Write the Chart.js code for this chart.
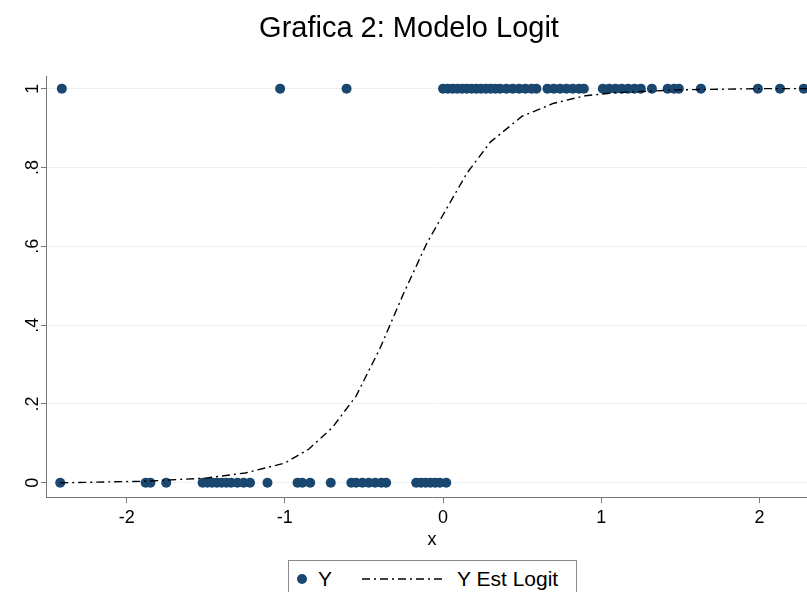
<!DOCTYPE html>
<html>
<head>
<meta charset="utf-8">
<script src="https://cdn.jsdelivr.net/npm/chart.js@4"></script>
<style>
    html, body { margin: 0; padding: 0; background: #fff; overflow: hidden; }
    #wrap { position: relative; width: 834px; height: 592px; overflow: hidden; }
    #legend {
        position: absolute; left: 288px; top: 560px; width: 289px; height: 44px;
        box-sizing: border-box; border: 1px solid #8a8a8a; background: #fff;
        font-family: "Liberation Sans", Arial, sans-serif; font-size: 21px; color: #000;
        display: flex; align-items: center; padding: 0 0 6px 8px; line-height: 36px;
    }
    #legend .dot { width: 10px; height: 10px; border-radius: 50%; display: inline-block; }
    #legend svg { display: inline-block; }
</style>
</head>
<body>
<div id="wrap">
    <canvas id="logitChart" width="834" height="592"></canvas>
    <div id="legend"></div>
</div>
<script>
/* datos */
var onesX = [-2.41, -1.03, -0.61,
    0.0, 0.03, 0.06, 0.09, 0.12, 0.15, 0.18, 0.21, 0.24, 0.27, 0.30, 0.33, 0.36, 0.40, 0.44, 0.48, 0.52, 0.56, 0.59,
    0.66, 0.70, 0.74, 0.78, 0.82, 0.86, 0.89,
    1.01, 1.05, 1.09, 1.13, 1.17, 1.21, 1.25, 1.32, 1.42, 1.46, 1.49, 1.63, 1.99, 2.13, 2.28];
var zerosX = [-2.42, -1.88, -1.85, -1.75,
    -1.52, -1.49, -1.46, -1.43, -1.40, -1.37, -1.34, -1.30, -1.26, -1.22, -1.11,
    -0.92, -0.89, -0.84, -0.71, -0.58, -0.55, -0.51, -0.47, -0.43, -0.39, -0.36,
    -0.17, -0.14, -0.11, -0.08, -0.05, -0.02, 0.02];
var curveX = [-2.42, -1.88, -1.5, -1.25, -1.0, -0.85, -0.7, -0.55, -0.4, -0.25, -0.1, 0.0, 0.15, 0.3, 0.5, 0.7, 0.9, 1.1, 1.5, 2.0, 2.37];
var curveY = [0.0, 0.004, 0.012, 0.025, 0.05, 0.085, 0.14, 0.22, 0.34, 0.48, 0.61, 0.68, 0.785, 0.865, 0.93, 0.963, 0.982, 0.99, 0.997, 1.0, 1.0];

var xTickValues = [-2, -1, 0, 1, 2];
var xTickLabels = ['-2', '-1', '0', '1', '2'];
var yTickValues = [0, 0.2, 0.4, 0.6, 0.8, 1];
var yTickLabels = ['0', '.2', '.4', '.6', '.8', '1'];

var navy = '#1a476f';
var lineDash = [8, 4, 2, 4];

Chart.defaults.font.family = '"Liberation Sans", Arial, sans-serif';
Chart.defaults.color = '#000';

var pointsY = onesX.map(function (x) { return { x: x, y: 1 }; })
    .concat(zerosX.map(function (x) { return { x: x, y: 0 }; }));
var curvePts = curveX.map(function (x, i) { return { x: x, y: curveY[i] }; });

var chart = new Chart(document.getElementById('logitChart').getContext('2d'), {
    type: 'scatter',
    data: {
        datasets: [{
            label: 'Y',
            data: pointsY,
            pointRadius: 5,
            pointBorderWidth: 0,
            pointBackgroundColor: navy,
            backgroundColor: navy,
            order: 1
        }, {
            label: 'Y Est Logit',
            data: curvePts,
            showLine: true,
            pointRadius: 0,
            borderColor: '#000',
            borderWidth: 1.4,
            borderDash: lineDash,
            tension: 0,
            fill: false,
            order: 0
        }]
    },
    options: {
        responsive: false,
        animation: false,
        devicePixelRatio: 1,
        layout: { padding: { left: 0, right: 16, top: 0, bottom: 35 } },
        plugins: {
            legend: { display: false },
            tooltip: { enabled: false },
            title: {
                display: true,
                text: 'Grafica 2: Modelo Logit',
                font: { size: 29, weight: 'normal' },
                color: '#000',
                padding: { top: 12, bottom: 30 }
            }
        },
        scales: {
            x: {
                type: 'linear',
                min: -2.51,
                max: 2.37,
                afterBuildTicks: function (s) { s.ticks = xTickValues.map(function (v) { return { value: v }; }); },
                afterFit: function (s) { s.height = 60; },
                ticks: {
                    font: { size: 18 },
                    padding: 4,
                    callback: function (v, i) { return xTickLabels[i]; }
                },
                grid: { drawOnChartArea: false, tickLength: 6, tickColor: '#777' },
                border: { color: '#777', width: 1 },
                title: { display: true, text: 'x', font: { size: 18 }, padding: { top: 0, bottom: 6 } }
            },
            y: {
                type: 'linear',
                min: -0.036,
                max: 1.03,
                afterBuildTicks: function (s) { s.ticks = yTickValues.map(function (v) { return { value: v }; }); },
                afterFit: function (s) { s.width = 46; },
                ticks: {
                    font: { size: 18 },
                    minRotation: 90,
                    maxRotation: 90,
                    crossAlign: 'center',
                    padding: 0,
                    callback: function (v, i) { return yTickLabels[i]; }
                },
                grid: { color: '#eaf2f3', tickLength: 5, tickColor: '#777' },
                border: { color: '#777', width: 1 }
            }
        }
    }
});

/* leyenda en HTML */
function buildLegend() {
    var box = document.getElementById('legend');
    var ds = chart.data.datasets;
    box.innerHTML =
        '<span class="dot" style="background:' + navy + '"></span>' +
        '<span style="margin-left:11px">' + ds[0].label + '</span>' +
        '<svg width="82" height="6" style="margin-left:30px"><line x1="0" y1="3" x2="82" y2="3" stroke="#000" stroke-width="1.4" stroke-dasharray="' + lineDash.join(' ') + '"/></svg>' +
        '<span style="margin-left:13px">' + ds[1].label + '</span>';
}
buildLegend();
</script>
</body>
</html>
